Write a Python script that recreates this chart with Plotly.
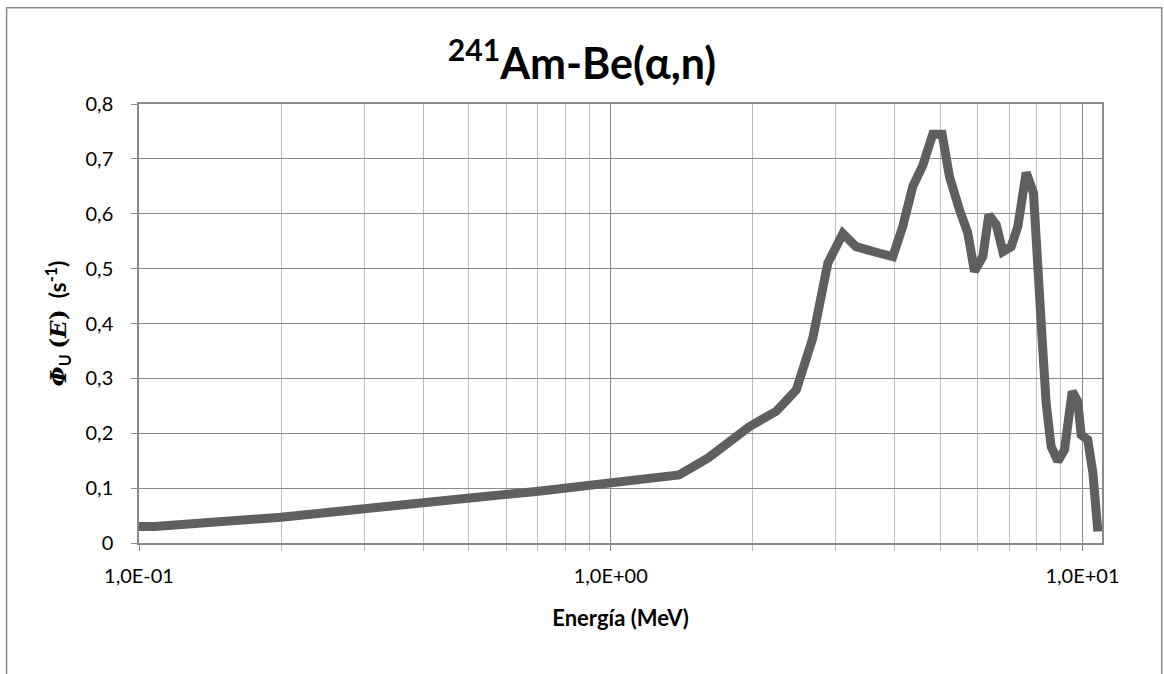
import plotly.graph_objects as go

# Energy (MeV) and unit-normalised fluence Phi_U(E) (s^-1)
energy_mev = [0.100, 0.108, 0.200, 0.329, 0.394, 0.503, 0.695, 0.904, 1.000, 1.176,
              1.396, 1.609, 1.835, 1.967, 2.243, 2.474, 2.682, 2.885, 3.105, 3.313,
              3.713, 3.963, 4.160, 4.369, 4.587, 4.816, 5.041, 5.224, 5.487, 5.713,
              5.903, 6.149, 6.331, 6.564, 6.779, 7.062, 7.295, 7.597, 7.873, 8.040,
              8.215, 8.375, 8.582, 8.867, 9.160, 9.511, 9.773, 9.937, 10.26, 10.52,
              10.78]
phi_u = [0.030, 0.030, 0.047, 0.064, 0.072, 0.082, 0.094, 0.106, 0.110, 0.115,
         0.124, 0.155, 0.194, 0.212, 0.240, 0.279, 0.374, 0.510, 0.564, 0.540,
         0.528, 0.522, 0.577, 0.650, 0.688, 0.745, 0.745, 0.668, 0.607, 0.565,
         0.495, 0.522, 0.598, 0.580, 0.531, 0.540, 0.577, 0.675, 0.638, 0.528,
         0.370, 0.255, 0.176, 0.149, 0.170, 0.276, 0.258, 0.197, 0.188, 0.128,
         0.021]

x_tick_vals = [0.1, 1, 10]
x_tick_text = ["1,0E-01", "1,0E+00", "1,0E+01"]
x_minor_vals = [0.2, 0.3, 0.4, 0.5, 0.6, 0.7, 0.8, 0.9, 2, 3, 4, 5, 6, 7, 8, 9]
y_tick_vals = [0, 0.1, 0.2, 0.3, 0.4, 0.5, 0.6, 0.7, 0.8]
y_tick_text = ["0", "0,1", "0,2", "0,3", "0,4", "0,5", "0,6", "0,7", "0,8"]

title_text = "<b><sup>241</sup>Am-Be(α,n)</b>"
x_title = "<b>Energía (MeV)</b>"
y_title = ('<b><span style="font-family:\'DejaVu Serif\'"><i>Φ</i></span><sub>U</sub> '
           '<span style="font-family:\'DejaVu Serif\'">(<i>E</i>)</span>  (s<sup>-1</sup>)</b>')

FONT = "Lato, 'Open Sans', sans-serif"
MAJOR_GRID = "#8a8a8a"
MINOR_GRID = "#bdbdbd"

fig = go.Figure()
fig.add_trace(go.Scatter(
    x=energy_mev, y=phi_u, mode="lines",
    line=dict(color="#5f5f5f", width=9),
    hoverinfo="x+y", showlegend=False,
))

W, H = 1164, 674
L, R, T, B = 139.4, 1102.3, 104.3, 543.3
pw, ph = R - L, B - T

fig.update_layout(
    width=W, height=H,
    margin=dict(l=L, r=W - R, t=T, b=H - B, pad=0),
    paper_bgcolor="white", plot_bgcolor="white",
    font=dict(family=FONT, size=20, color="black"),
    title=dict(text=title_text, x=0.5, xanchor="center", y=1 - 64 / H, yanchor="middle",
               font=dict(family=FONT, size=43, color="black")),
    xaxis=dict(
        type="log", range=[-1, 1.0414],
        tickmode="array", tickvals=x_tick_vals, ticktext=x_tick_text,
        showgrid=True, gridcolor=MAJOR_GRID, gridwidth=1.3,
        ticks="outside", ticklen=6, tickcolor=MAJOR_GRID, tickwidth=1.3,
        ticklabelstandoff=8,
        minor=dict(tickmode="array", tickvals=x_minor_vals, showgrid=True,
                   gridcolor=MINOR_GRID, gridwidth=1.3, ticks="outside", ticklen=6,
                   tickcolor=MINOR_GRID, tickwidth=1.3),
        showline=True, linecolor=MAJOR_GRID, linewidth=1.5, mirror=True,
        tickfont=dict(size=20, family=FONT),
        title=dict(text=x_title, standoff=25, font=dict(size=22, family=FONT)),
        zeroline=False,
    ),
    yaxis=dict(
        range=[0, 0.8],
        tickmode="array", tickvals=y_tick_vals, ticktext=y_tick_text,
        showgrid=True, gridcolor=MAJOR_GRID, gridwidth=1.3,
        ticks="outside", ticklen=6, tickcolor=MAJOR_GRID, tickwidth=1.3,
        ticklabelstandoff=14,
        showline=True, linecolor=MAJOR_GRID, linewidth=1.5, mirror=True,
        tickfont=dict(size=20, family=FONT),
        title=dict(text=y_title, standoff=12, font=dict(size=23, family=FONT)),
        zeroline=False,
    ),
    shapes=[dict(type="rect", xref="paper", yref="paper",
                 x0=(7 - L) / pw, x1=(1162 - L) / pw,
                 y0=(B - 700) / ph, y1=(B - 8) / ph,
                 line=dict(color="#8a8a8a", width=1.5), fillcolor="rgba(0,0,0,0)",
                 layer="below")],
)

fig.write_html("out.html")
